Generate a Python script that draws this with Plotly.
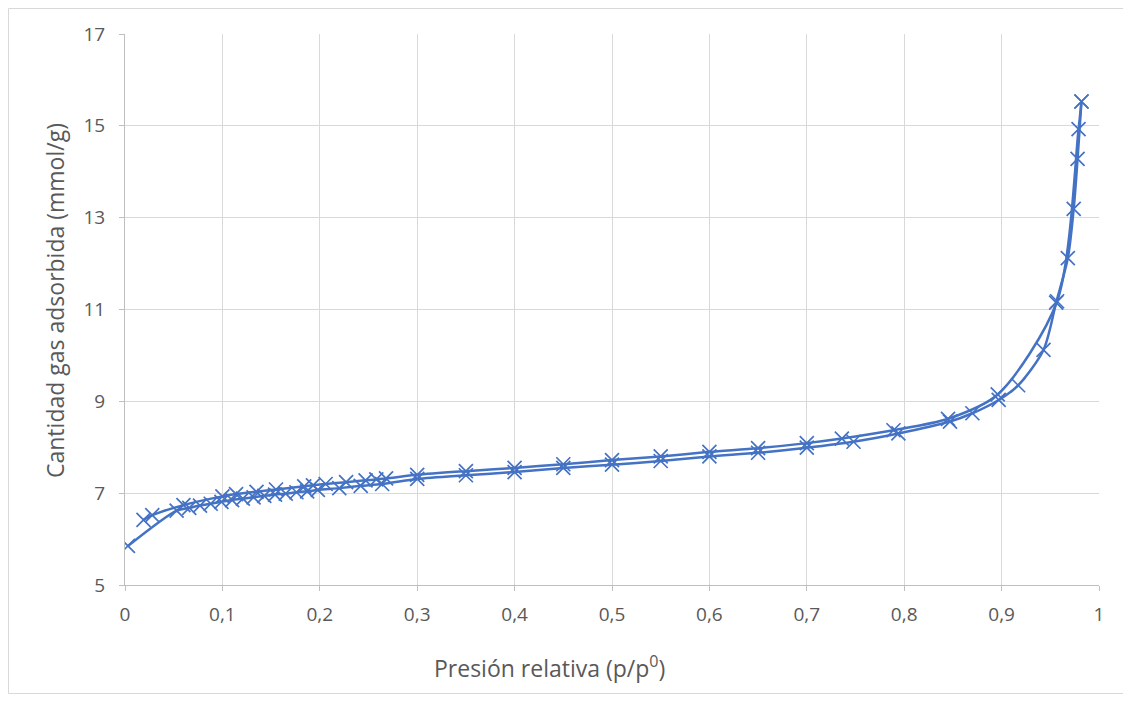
import plotly.graph_objects as go

# Adsorption branch (lower)
ads_x = [0.003, 0.053, 0.066, 0.077, 0.088, 0.099, 0.110, 0.121, 0.132, 0.143,
         0.154, 0.165, 0.176, 0.187, 0.198, 0.220, 0.242, 0.264, 0.300, 0.350,
         0.400, 0.450, 0.500, 0.550, 0.600, 0.650, 0.700, 0.748, 0.794, 0.847,
         0.870, 0.897, 0.917, 0.943, 0.956, 0.968, 0.974, 0.978, 0.982]
ads_y = [5.85, 6.62, 6.68, 6.73, 6.77, 6.81, 6.85, 6.88, 6.91, 6.94,
         6.97, 6.99, 7.02, 7.04, 7.07, 7.11, 7.16, 7.20, 7.31, 7.39,
         7.46, 7.55, 7.62, 7.70, 7.80, 7.88, 7.99, 8.12, 8.30, 8.56,
         8.74, 9.03, 9.35, 10.12, 11.15, 12.12, 13.19, 14.28, 15.53]

# Desorption branch (upper)
des_x = [0.982, 0.979, 0.957, 0.896, 0.845, 0.789, 0.736, 0.700, 0.650, 0.600,
         0.550, 0.500, 0.450, 0.400, 0.350, 0.300, 0.268, 0.258, 0.247, 0.227,
         0.206, 0.193, 0.184, 0.155, 0.135, 0.114, 0.100, 0.060, 0.028, 0.019]
des_y = [15.53, 14.93, 11.18, 9.15, 8.62, 8.37, 8.19, 8.09, 7.98, 7.90,
         7.80, 7.72, 7.63, 7.55, 7.48, 7.40, 7.32, 7.30, 7.28, 7.24,
         7.20, 7.17, 7.15, 7.08, 7.03, 6.98, 6.93, 6.74, 6.52, 6.42]

x_ticks = [0, 0.1, 0.2, 0.3, 0.4, 0.5, 0.6, 0.7, 0.8, 0.9, 1]
y_ticks = [5, 7, 9, 11, 13, 15, 17]

color = "#4472C4"
marker = dict(symbol="x-thin", size=14, line=dict(width=1.7, color=color), color=color)

fig = go.Figure()
for xs, ys, name in [(ads_x, ads_y, "Adsorción"), (des_x, des_y, "Desorción")]:
    fig.add_trace(go.Scatter(
        x=xs, y=ys, name=name, mode="lines+markers",
        line=dict(color=color, width=2.5, shape="spline", smoothing=0.8),
        marker=marker, showlegend=False,
    ))

# Page has an 8px body margin; figure placed at (8, 8)
W, H = 1115, 686
ml, mr, mt, mb = 117, 24, 26, 109
pw, ph = W - ml - mr, H - mt - mb

def px(xp):
    return (xp - ml) / pw

def py(yp):
    return (H - mb - yp) / ph

fig.update_layout(
    width=W, height=H,
    margin=dict(l=ml, r=mr, t=mt, b=mb),
    paper_bgcolor="white", plot_bgcolor="white",
    separators=", ",
    font=dict(family="Open Sans, Liberation Sans, sans-serif", color="#595959", size=19),
    xaxis=dict(
        range=[0, 1], tickvals=x_ticks, showgrid=True, gridcolor="#D9D9D9", gridwidth=1,
        showline=True, linecolor="#BFBFBF", linewidth=1, ticks="outside", ticklen=5,
        tickcolor="#BFBFBF", zeroline=False, tickfont=dict(size=19), ticklabelstandoff=7,
    ),
    yaxis=dict(
        range=[5, 17], tickvals=y_ticks, showgrid=True, gridcolor="#D9D9D9", gridwidth=1,
        showline=True, linecolor="#BFBFBF", linewidth=1, ticks="outside", ticklen=5,
        tickcolor="#BFBFBF", zeroline=False, tickfont=dict(size=19), ticklabelstandoff=10,
    ),
    annotations=[
        dict(text="Presión relativa (p/p<sup>0</sup>)", xref="paper", yref="paper",
             x=px(541), y=py(659), xanchor="center", yanchor="middle", showarrow=False,
             font=dict(size=23, color="#595959")),
        dict(text="Cantidad gas adsorbida (mmol/g)", xref="paper", yref="paper",
             x=px(47), y=py(293), xanchor="center", yanchor="middle", showarrow=False,
             textangle=-90, font=dict(size=23, color="#595959")),
    ],
    shapes=[dict(type="rect", xref="paper", yref="paper",
                 x0=px(0.5), x1=px(W + 20), y0=py(H - 0.5), y1=py(0.5),
                 line=dict(color="#D9D9D9", width=1), layer="below")],
)

fig.write_html("out.html")
